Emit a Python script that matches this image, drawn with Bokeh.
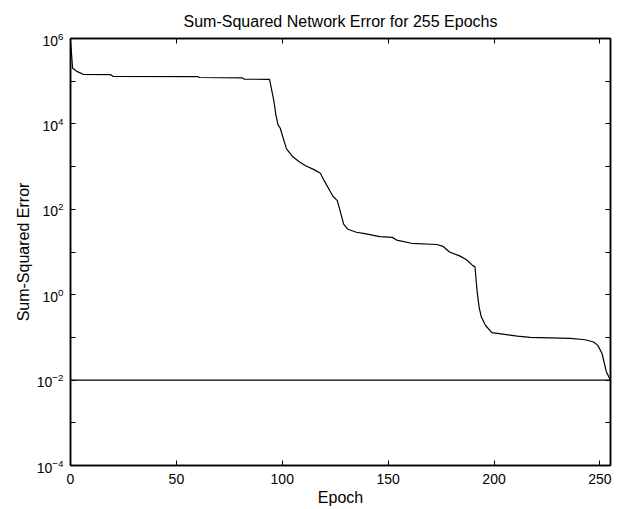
from bokeh.plotting import figure
from bokeh.models import Range1d, LinearAxis, LogAxis, FixedTicker, Span
from bokeh.embed import file_html
from bokeh.resources import INLINE

# ---- data ----
epochs = [0, 1, 3, 6, 19, 20, 60, 61, 81, 82, 94, 96, 97, 98, 99, 102, 105,
          108, 111, 115, 118, 120, 122, 124, 126, 129, 131, 135, 139, 146,
          152, 154, 161, 173, 176, 179, 184, 187, 190, 191, 192, 193, 194,
          196, 199, 205, 211, 217, 236, 243, 247, 249, 251, 253, 255]
sse = [9.0e5, 2.0e5, 1.7e5, 1.45e5, 1.42e5, 1.30e5, 1.28e5, 1.22e5, 1.20e5,
       1.12e5, 1.10e5, 3.5e4, 1.6e4, 9.5e3, 8.0e3, 2.6e3, 1.7e3, 1.3e3,
       1.05e3, 8.5e2, 7.0e2, 4.5e2, 3.0e2, 2.0e2, 1.6e2, 45.0, 34.0, 29.0,
       27.0, 23.0, 22.0, 19.0, 16.0, 15.0, 13.5, 10.0, 8.0, 6.6, 4.8, 4.5,
       1.2, 0.5, 0.3, 0.19, 0.13, 0.118, 0.107, 0.100, 0.095, 0.088, 0.078,
       0.065, 0.042, 0.016, 0.0098]
goal = 0.01
max_epoch = 255
x_ticks = [0, 50, 100, 150, 200, 250]
y_label_exps = [-4, -2, 0, 2, 4, 6]
y_minor_exps = [-3, -1, 1, 3, 5]
title_text = "Sum-Squared Network Error for 255 Epochs"
x_label = "Epoch"
y_label = "Sum-Squared Error"

FONT = "Liberation Sans"

y_major = [10.0 ** e for e in y_label_exps]
y_minor = [10.0 ** e for e in y_minor_exps]

p = figure(frame_width=540, frame_height=427,
           x_range=Range1d(0, max_epoch),
           y_range=Range1d(10.0 ** min(y_label_exps), 10.0 ** max(y_label_exps)),
           y_axis_type="log", output_backend="svg", toolbar_location=None,
           min_border_left=70, min_border_right=8, min_border_top=38,
           min_border_bottom=44,
           background_fill_color="white", border_fill_color="white")

p.xgrid.visible = False
p.ygrid.visible = False
p.outline_line_color = "black"
p.outline_line_width = 1.5

p.title.text = title_text
p.title.align = "center"
p.title.text_font = FONT
p.title.text_font_style = "normal"
p.title.text_font_size = "16px"
p.title.text_color = "black"
p.title.standoff = 0
p.title.padding = 9


def style(ax):
    ax.axis_line_color = "black"
    ax.axis_line_width = 1.5
    ax.major_tick_line_color = "black"
    ax.major_tick_line_width = 1
    ax.major_tick_in = 5
    ax.major_tick_out = 0
    ax.minor_tick_line_color = "black"
    ax.minor_tick_line_width = 1
    ax.minor_tick_in = 5
    ax.minor_tick_out = 0
    ax.major_label_text_font = FONT
    ax.major_label_text_font_size = "14px"
    ax.major_label_text_color = "black"
    ax.axis_label_text_font = FONT
    ax.axis_label_text_font_style = "normal"
    ax.axis_label_text_font_size = "16px"
    ax.axis_label_text_color = "black"


def hide_labels(ax):
    ax.major_label_text_font_size = "1px"
    ax.major_label_text_color = None
    ax.major_label_text_alpha = 0
    ax.major_label_standoff = 0


xa = p.xaxis[0]
style(xa)
xa.ticker = FixedTicker(ticks=x_ticks)
xa.minor_tick_line_color = None
xa.axis_label = x_label
xa.major_label_standoff = 8
xa.axis_label_standoff = 2

ya = p.yaxis[0]
style(ya)
ya.ticker = FixedTicker(ticks=y_major, minor_ticks=y_minor)
ya.axis_label = y_label
ya.major_label_standoff = 7
ya.axis_label_standoff = 2

top = LinearAxis(ticker=FixedTicker(ticks=x_ticks))
style(top)
top.minor_tick_line_color = None
hide_labels(top)
p.add_layout(top, "above")

right = LogAxis(ticker=FixedTicker(ticks=y_major, minor_ticks=y_minor))
style(right)
hide_labels(right)
p.add_layout(right, "right")

p.line(epochs, sse, line_color="black", line_width=1.2)
p.add_layout(Span(location=goal, dimension="width", line_color="black",
                  line_width=1.2))

open("out.html", "w").write(file_html(p, INLINE))
